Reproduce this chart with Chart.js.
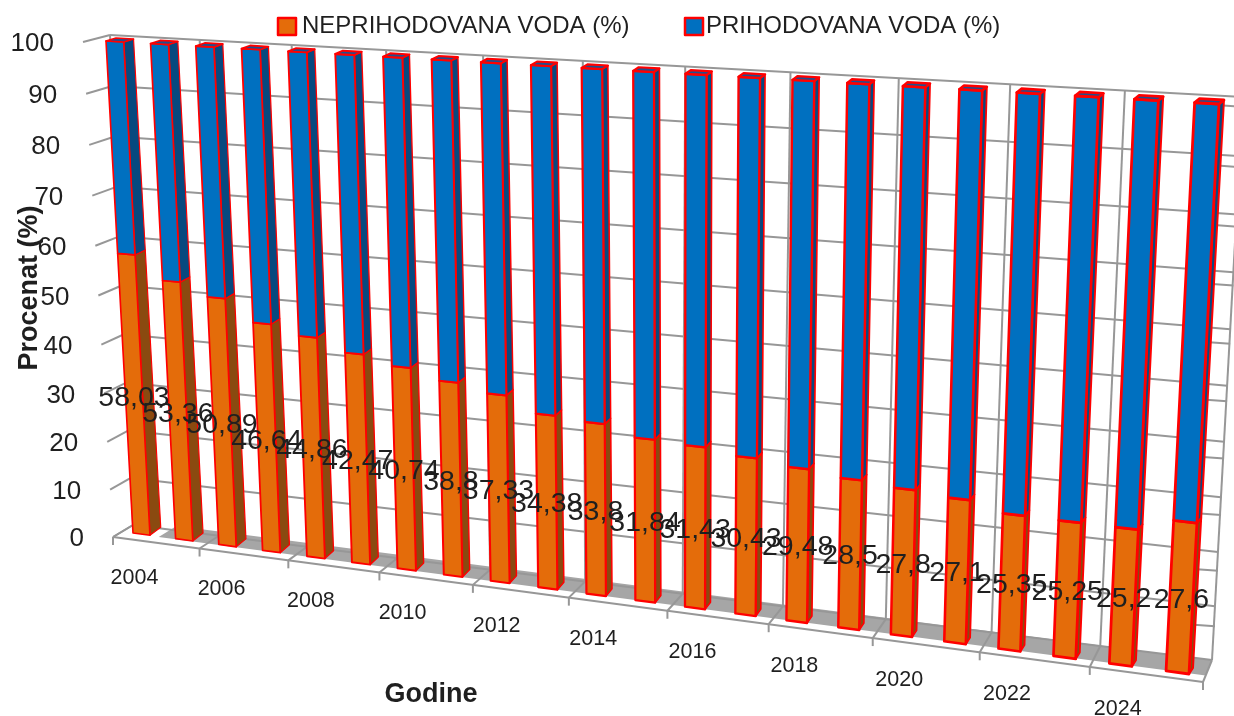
<!DOCTYPE html>
<html>
<head>
<meta charset="utf-8">
<title>Procenat vode</title>
<script src="https://cdn.jsdelivr.net/npm/chart.js@4"></script>
<style>
    html, body { margin: 0; padding: 0; background: #fff; }
    canvas { display: block; }
</style>
</head>
<body>
<canvas id="chart" width="1234" height="716"></canvas>
<script>
// Data
const years = ["2004", "2005", "2006", "2007", "2008", "2009", "2010", "2011", "2012", "2013", "2014",
    "2015", "2016", "2017", "2018", "2019", "2020", "2021", "2022", "2023", "2024", "2025"];
const neprihodovana = [58.03, 53.36, 50.89, 46.64, 44.86, 42.47, 40.74, 38.8, 37.33, 34.38, 33.8,
    31.84, 31.43, 30.43, 29.48, 28.5, 27.8, 27.1, 25.35, 25.25, 25.2, 27.6];
const prihodovana = [41.97, 46.64, 49.11, 53.36, 55.14, 57.53, 59.26, 61.2, 62.67, 65.62, 66.2,
    68.16, 68.57, 69.57, 70.52, 71.5, 72.2, 72.9, 74.65, 74.75, 74.8, 72.4];
const seriesNames = ["NEPRIHODOVANA VODA (%)", "PRIHODOVANA VODA (%)"];
const yTitle = "Procenat (%)";
const xTitle = "Godine";

// Colours
const orange = "#e46c0a", orangeSide = "#8a4a10";
const blue = "#0070c0", blueSide = "#07497f", blueTop = "#1f4f8f";
const red = "#ff0000", gridGrey = "#979797", floorGrey = "#a6a6a6", ink = "#1f1f1f";
const sideColors = [orangeSide, blueSide];

const BAR_PCT = 0.4;

// The four corners of each plane of the fake 3D box: top-left, top-right, bottom-right, bottom-left
const barFrontQuad = [[106, 41], [1219, 104], [1189, 674], [133, 533]];
const barBackQuad = [[116, 38], [1224, 100], [1193, 668], [144, 525]];
const wallQuad = [[110, 35], [1243, 97], [1212, 660], [133, 525]];
const frontQuad = [[83, 42], [1231, 112], [1203, 682], [113, 537]];

// square -> quad projective map
function makeProjection(q) {
    const [x0, y0] = q[0], [x1, y1] = q[1], [x2, y2] = q[2], [x3, y3] = q[3];
    const dx1 = x1 - x2, dx2 = x3 - x2, sx = x0 - x1 + x2 - x3;
    const dy1 = y1 - y2, dy2 = y3 - y2, sy = y0 - y1 + y2 - y3;
    const den = dx1 * dy2 - dx2 * dy1;
    const g = (sx * dy2 - dx2 * sy) / den;
    const h = (dx1 * sy - sx * dy1) / den;
    const a = x1 - x0 + g * x1, b = x3 - x0 + h * x3;
    const d = y1 - y0 + g * y1, e = y3 - y0 + h * y3;
    return (u, v) => {
        const w = g * u + h * v + 1;
        return [(a * u + b * v + x0) / w, (d * u + e * v + y0) / w];
    };
}

const wall = makeProjection(wallQuad);
const front = makeProjection(frontQuad);
const barFrontRaw = makeProjection(barFrontQuad);
const barBackRaw = makeProjection(barBackQuad);

// bar quads are measured from first bar's left edge to last bar's right edge
const barInset = (1 - BAR_PCT) / 2 / years.length;
const barU = u => (u - barInset) / (1 - 2 * barInset);
const barFront = (u, v) => barFrontRaw(barU(u), v);
const barBack = (u, v) => barBackRaw(barU(u), v);

function line(ctx, a, b) {
    ctx.beginPath();
    ctx.moveTo(a[0], a[1]);
    ctx.lineTo(b[0], b[1]);
    ctx.stroke();
}

function poly(ctx, pts, fill, stroke, width) {
    ctx.beginPath();
    pts.forEach((p, i) => i ? ctx.lineTo(p[0], p[1]) : ctx.moveTo(p[0], p[1]));
    ctx.closePath();
    ctx.fillStyle = fill;
    ctx.fill();
    if (stroke) {
        ctx.strokeStyle = stroke;
        ctx.lineWidth = width;
        ctx.lineJoin = "round";
        ctx.stroke();
    }
}

function drawBox(chart) {
    const ctx = chart.ctx;
    const yScale = chart.scales.y;
    const area = chart.chartArea;
    const groups = years.length / 2;

    // floor shadow
    const lerp = (a, b, t) => [a[0] + (b[0] - a[0]) * t, a[1] + (b[1] - a[1]) * t];
    const floor = (u, d) => lerp(front(u, 1), wall(u, 1), d);
    poly(ctx, [floor(0.04, 1.3), floor(1, 1), floor(1, 0.3), floor(0.04, 0.4)], floorGrey);

    ctx.strokeStyle = gridGrey;
    ctx.lineWidth = 2;

    // horizontal grid lines on back wall and left wall
    yScale.ticks.forEach(t => {
        const v = (yScale.getPixelForValue(t.value) - area.top) / area.height;
        line(ctx, wall(0, v), wall(1, v));
        line(ctx, front(0, v), wall(0, v));
        // short second set of lines showing right of the last bar
        if (t.value > 0) {
            const e = wall(1, v);
            const drop = 10 + 11 * v;
            line(ctx, [e[0] - 42, e[1] + drop - 3], [e[0], e[1] + drop]);
        }
    });

    // vertical lines, floor lines and tick marks every second category
    for (let k = 0; k <= groups; k++) {
        const u = k / groups;
        line(ctx, wall(u, 0), wall(u, 1));
        line(ctx, wall(u, 1), front(u, 1));
        const p = front(u, 1);
        line(ctx, p, [p[0], p[1] + 8]);
    }
    line(ctx, front(0, 1), front(1, 1));
}

function drawBars(chart) {
    const ctx = chart.ctx;
    const area = chart.chartArea;
    const metas = [chart.getDatasetMeta(0), chart.getDatasetMeta(1)];
    const toU = x => (x - area.left) / area.width;
    const toV = y => (y - area.top) / area.height;

    years.forEach((_, i) => {
        metas.forEach((meta, s) => {
            const el = meta.data[i];
            const u0 = toU(el.x - el.width / 2), u1 = toU(el.x + el.width / 2);
            const vTop = toV(el.y), vBase = toV(el.base);
            const fill = chart.data.datasets[s].backgroundColor;
            const lw = 1.6 + 1.2 * u1;
            // side face
            poly(ctx, [barFront(u1, vTop), barBack(u1, vTop), barBack(u1, vBase), barFront(u1, vBase)],
                sideColors[s], red, lw * 0.7);
            // front face
            poly(ctx, [barFront(u0, vTop), barFront(u1, vTop), barFront(u1, vBase), barFront(u0, vBase)],
                fill, red, lw);
            // lid only on the top segment
            if (s === 1) {
                poly(ctx, [barFront(u0, vTop), barFront(u1, vTop), barBack(u1, vTop), barBack(u0, vTop)],
                    blueTop, red, lw);
            }
        });
    });
}

function drawTexts(chart) {
    const ctx = chart.ctx;
    const area = chart.chartArea;
    const xScale = chart.scales.x, yScale = chart.scales.y;
    ctx.textBaseline = "middle";
    ctx.fillStyle = ink;

    // y axis labels follow the slanted left wall
    ctx.font = "26px 'Liberation Sans'";
    ctx.textAlign = "right";
    yScale.ticks.forEach(t => {
        const v = (yScale.getPixelForValue(t.value) - area.top) / area.height;
        const p = front(0, v);
        ctx.fillText(t.label, p[0] - 29, p[1] + 2);
    });

    // x axis labels, every second year
    ctx.font = "21.5px 'Liberation Sans'";
    ctx.textAlign = "center";
    years.forEach((y, i) => {
        if (i % 2) return;
        const u = (xScale.getPixelForValue(i) - area.left) / area.width;
        const p = front(u, 1);
        ctx.fillText(y, p[0], p[1] + 38);
    });

    // value labels in the middle of the orange segments
    ctx.font = "28.5px 'Liberation Sans'";
    chart.getDatasetMeta(0).data.forEach((el, i) => {
        const u = (el.x - area.left) / area.width;
        const v = ((el.y + el.base) / 2 - area.top) / area.height;
        const p = barFront(u, v);
        ctx.fillText(String(neprihodovana[i]).replace(".", ","), p[0], p[1] + 2);
    });

    // axis titles
    ctx.font = "bold 27px 'Liberation Sans'";
    ctx.fillText(xTitle, 431, 695);
    ctx.save();
    ctx.translate(30, 288);
    ctx.rotate(-Math.PI / 2);
    ctx.fillText(yTitle, 0, 0);
    ctx.restore();

    // legend
    const legendItems = [[278, 302], [685, 706]];
    ctx.font = "24px 'Liberation Sans'";
    ctx.textAlign = "left";
    legendItems.forEach((it, s) => {
        poly(ctx, [[it[0], 18], [it[0] + 18, 18], [it[0] + 18, 35], [it[0], 35]],
            chart.data.datasets[s].backgroundColor, red, 2.5);
        ctx.fillStyle = ink;
        ctx.fillText(seriesNames[s], it[1], 26);
    });
}

// The bars go through Chart.js scales, then get projected onto the tilted box
const boxPlugin = {
    id: "box3d",
    beforeDatasetsDraw(chart) {
        drawBox(chart);
        drawBars(chart);
        return false;
    },
    afterDraw(chart) {
        drawTexts(chart);
    }
};

new Chart(document.getElementById("chart"), {
    type: "bar",
    data: {
        labels: years,
        datasets: [
            { label: seriesNames[0], data: neprihodovana, backgroundColor: orange, borderColor: red },
            { label: seriesNames[1], data: prihodovana, backgroundColor: blue, borderColor: red }
        ]
    },
    options: {
        responsive: false,
        animation: false,
        barPercentage: BAR_PCT,
        categoryPercentage: 1,
        plugins: { legend: { display: false }, tooltip: { enabled: false } },
        scales: {
            x: { stacked: true, display: false },
            y: { stacked: true, display: false, min: 0, max: 100, ticks: { stepSize: 10 } }
        }
    },
    plugins: [boxPlugin]
});
</script>
</body>
</html>
